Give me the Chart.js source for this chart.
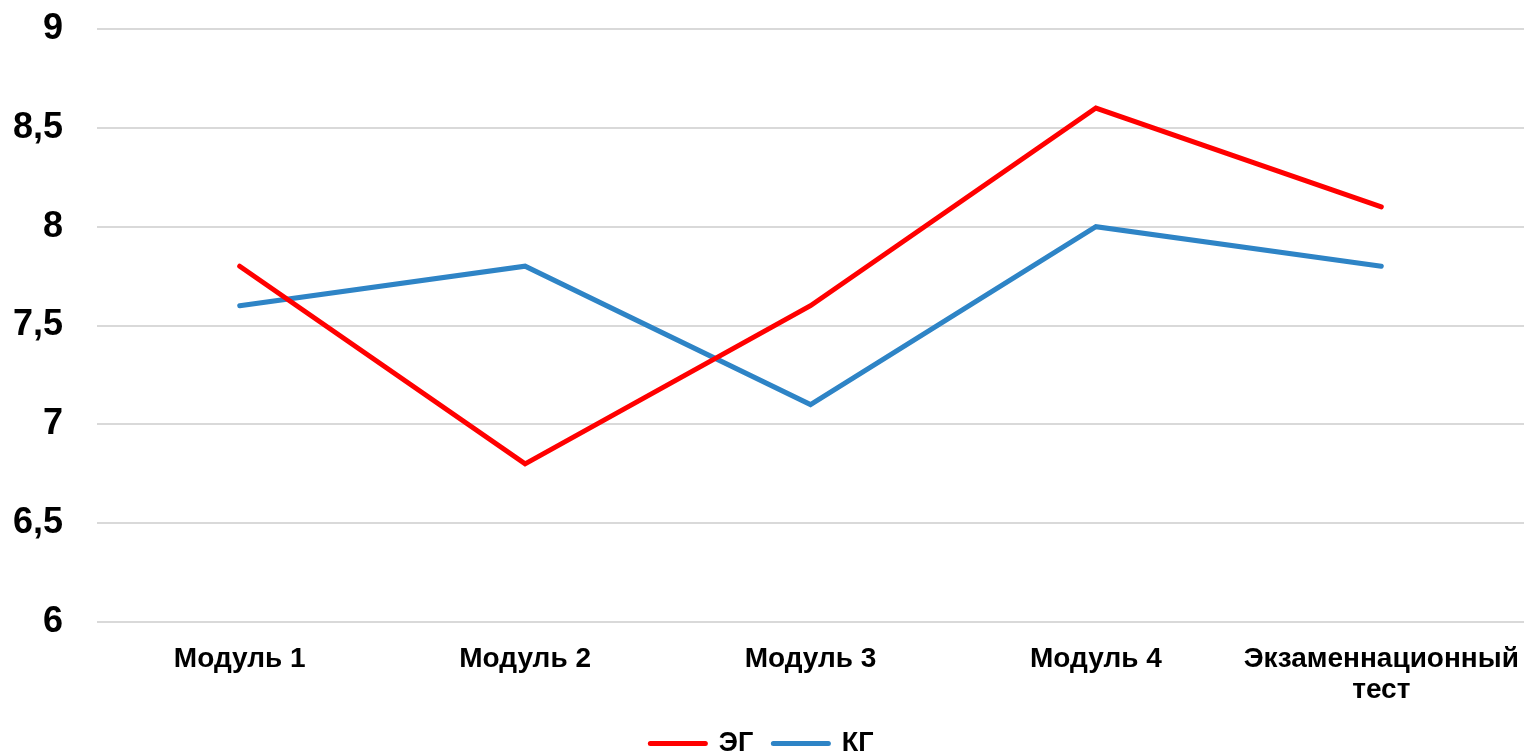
<!DOCTYPE html>
<html>
<head>
<meta charset="utf-8">
<script src="https://cdn.jsdelivr.net/npm/chart.js@4"></script>
<style>
  html, body { margin: 0; padding: 0; background: #fff; overflow: hidden; }
  #wrap { width: 1524px; height: 767px; }
</style>
</head>
<body>
<div id="wrap"><canvas id="myChart"></canvas></div>
<script>
const ctx = document.getElementById('myChart');

const categories = ['Модуль 1', 'Модуль 2', 'Модуль 3', 'Модуль 4', ['Экзаменнационный', 'тест']];
const egValues = [7.8, 6.8, 7.6, 8.6, 8.1];
const kgValues = [7.6, 7.8, 7.1, 8.0, 7.8];

new Chart(ctx, {
  type: 'line',
  data: {
    labels: categories,
    datasets: [{
      label: 'ЭГ',
      data: egValues,
      borderColor: '#ff0000',
      backgroundColor: '#ff0000',
      borderWidth: 5,
      borderCapStyle: 'round',
      pointRadius: 0,
      pointStyle: 'line',
      tension: 0
    }, {
      label: 'КГ',
      data: kgValues,
      borderColor: '#2e84c6',
      backgroundColor: '#2e84c6',
      borderWidth: 5,
      borderCapStyle: 'round',
      pointRadius: 0,
      pointStyle: 'line',
      tension: 0
    }]
  },
  options: {
    responsive: true,
    maintainAspectRatio: false,
    animation: false,
    layout: {
      padding: { left: 0, right: 0, top: 29, bottom: 0 }
    },
    plugins: {
      legend: {
        position: 'bottom',
        labels: {
          usePointStyle: true,
          pointStyleWidth: 55,
          boxHeight: 5,
          color: '#000',
          padding: 20,
          font: { family: 'Liberation Sans', size: 27, weight: 'bold' },
          generateLabels: function (chart) {
            return Chart.defaults.plugins.legend.labels.generateLabels(chart).map(function (l) {
              l.lineWidth = 5;
              l.lineCap = 'round';
              return l;
            });
          }
        }
      },
      tooltip: { enabled: false }
    },
    scales: {
      x: {
        offset: true,
        grid: { display: false },
        border: { display: false },
        afterFit: function (s) { s.paddingLeft = 0; s.paddingRight = 0; s.height = 88; },
        ticks: {
          color: '#000',
          maxRotation: 0,
          autoSkip: false,
          padding: 14,
          font: { family: 'Liberation Sans', size: 28, weight: 'bold', lineHeight: 1.1 }
        }
      },
      y: {
        min: 6,
        max: 9,
        grid: { color: '#d9d9d9', lineWidth: 2, drawTicks: false },
        border: { display: false },
        afterFit: function (s) { s.paddingTop = 0; s.paddingBottom = 0; s.width = 97; },
        ticks: {
          stepSize: 0.5,
          color: '#000',
          padding: 34,
          font: { family: 'Liberation Sans', size: 36, weight: 'bold' },
          callback: function (v) { return String(v).replace('.', ','); }
        }
      }
    }
  }
});
</script>
</body>
</html>
